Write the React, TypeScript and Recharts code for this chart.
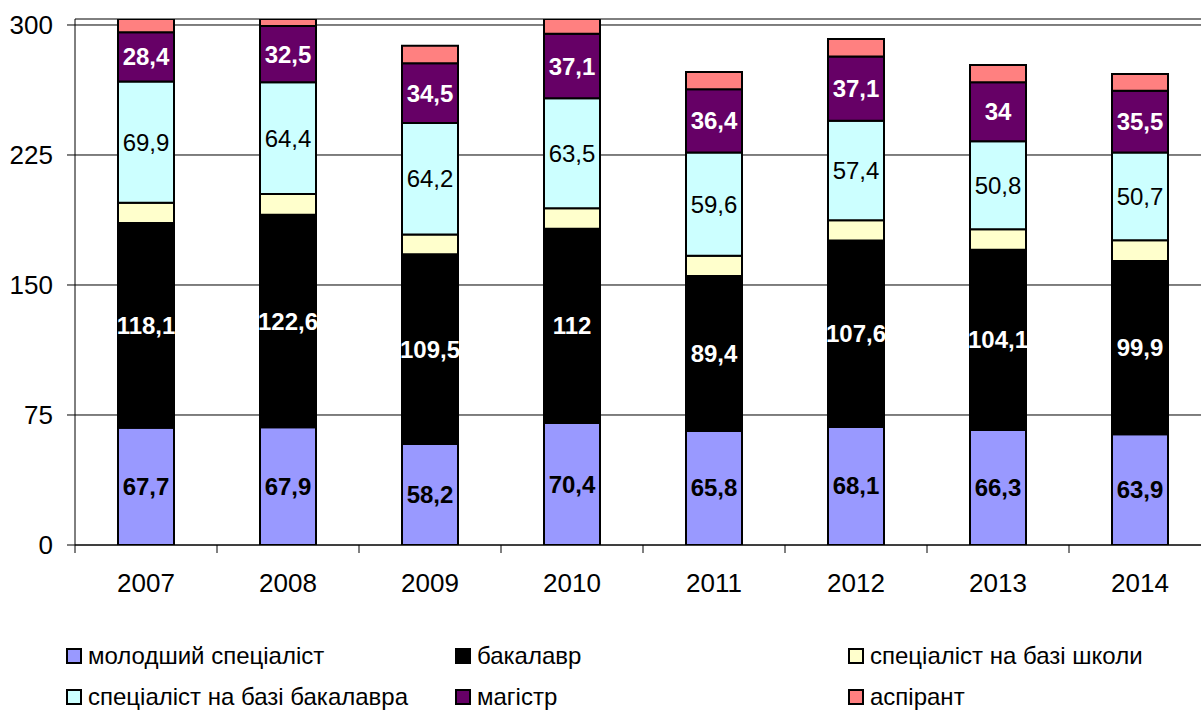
import React from 'react';
import { BarChart, Bar, XAxis, YAxis, CartesianGrid, LabelList, Legend } from 'recharts';

const years = ['2007', '2008', '2009', '2010', '2011', '2012', '2013', '2014'];
const molodshyi = [67.7, 67.9, 58.2, 70.4, 65.8, 68.1, 66.3, 63.9];
const bakalavr = [118.1, 122.6, 109.5, 112, 89.4, 107.6, 104.1, 99.9];
const specShkoly = [11.7, 12.0, 11.5, 11.9, 11.7, 11.6, 11.7, 12.0];
const specBakalavra = [69.9, 64.4, 64.2, 63.5, 59.6, 57.4, 50.8, 50.7];
const mahistr = [28.4, 32.5, 34.5, 37.1, 36.4, 37.1, 34, 35.5];
const aspirant = [9.5, 9.5, 10.1, 10.2, 10.0, 10.1, 10.0, 9.7];
const yTicks = [0, 75, 150, 225, 300];

const series = [
  { key: 'mol', name: 'молодший спеціаліст', color: '#9999FF' },
  { key: 'bak', name: 'бакалавр', color: '#000000' },
  { key: 'shk', name: 'спеціаліст на базі школи', color: '#FFFFCC' },
  { key: 'sb', name: 'спеціаліст на базі бакалавра', color: '#CCFFFF' },
  { key: 'mag', name: 'магістр', color: '#660066' },
  { key: 'asp', name: 'аспірант', color: '#FF8080' },
];

const data = years.map((y, i) => ({
  year: y,
  mol: molodshyi[i],
  bak: bakalavr[i],
  shk: specShkoly[i],
  sb: specBakalavra[i],
  mag: mahistr[i],
  asp: aspirant[i],
}));

const FONT = '"Liberation Sans", Arial, sans-serif';
const BAND = 142;

const fmt = (v: any) => String(v).replace('.', ',');

const XTick = (props: any) => {
  const { x, y, payload, index } = props;
  return (
    <g>
      <line x1={x - BAND / 2} x2={x - BAND / 2} y1={y} y2={y + 8} stroke="#000" strokeWidth={1} />
      {index === years.length - 1 && (
        <line x1={x + BAND / 2} x2={x + BAND / 2} y1={y} y2={y + 8} stroke="#000" strokeWidth={1} />
      )}
      <text x={x} y={y + 38} dy="0.35em" textAnchor="middle" fontSize={26} fill="#000" fontFamily={FONT}>
        {payload.value}
      </text>
    </g>
  );
};

// legend grid (page pixels)
const legendCols = [66, 455, 848];
const legendRows = [656, 697];

const LegendBox = () => (
  <div style={{ position: 'relative', width: 1201, height: 81, fontFamily: FONT }}>
    {series.map((s, i) => {
      const col = i % 3;
      const row = Math.floor(i / 3);
      return (
        <div
          key={s.key}
          style={{
            position: 'absolute',
            left: legendCols[col],
            top: legendRows[row] - 630 - 14,
            height: 28,
            display: 'flex',
            alignItems: 'center',
            whiteSpace: 'nowrap',
          }}
        >
          <span
            style={{
              display: 'inline-block',
              width: 12,
              height: 12,
              background: s.color,
              border: '2px solid #000',
              marginRight: 6,
            }}
          />
          <span style={{ fontSize: 24, color: '#000', lineHeight: '28px' }}>{s.name}</span>
        </div>
      );
    })}
  </div>
);

export default function App() {
  return (
    <div style={{ width: 1201, height: 711, overflow: 'hidden', position: 'relative', background: '#fff' }}>
      <style>{'body{margin:0}'}</style>
      <BarChart
        width={1230}
        height={711}
        data={data}
        margin={{ top: 19, right: 19, left: 0, bottom: 106 }}
        barSize={56}
      >
        <CartesianGrid vertical={false} stroke="#000" strokeWidth={1} />
        <XAxis
          dataKey="year"
          height={60}
          stroke="#000"
          tickLine={false}
          tickSize={0}
          tickMargin={0}
          tick={<XTick />}
          interval={0}
        />
        <YAxis
          width={75}
          domain={[0, 303.46]}
          ticks={yTicks}
          allowDataOverflow
          stroke="#000"
          tickSize={8}
          tickMargin={14}
          tick={{ fontSize: 26, fill: '#000', fontFamily: FONT }}
        />
        <Legend
          layout="horizontal"
          verticalAlign="middle"
          align="center"
          wrapperStyle={{ top: 630, left: 0, width: 1201, height: 81 }}
          content={() => <LegendBox />}
        />
        <Bar dataKey="mol" name="молодший спеціаліст" stackId="a" fill="#9999FF" stroke="#000" strokeWidth={2} isAnimationActive={false}>
          <LabelList dataKey="mol" position="center" formatter={fmt} fill="#000" fontSize={24} fontWeight="bold" fontFamily={FONT} />
        </Bar>
        <Bar dataKey="bak" name="бакалавр" stackId="a" fill="#000000" stroke="#000" strokeWidth={2} isAnimationActive={false}>
          <LabelList dataKey="bak" position="center" formatter={fmt} fill="#fff" fontSize={24} fontWeight="bold" fontFamily={FONT} />
        </Bar>
        <Bar dataKey="shk" name="спеціаліст на базі школи" stackId="a" fill="#FFFFCC" stroke="#000" strokeWidth={2} isAnimationActive={false} />
        <Bar dataKey="sb" name="спеціаліст на базі бакалавра" stackId="a" fill="#CCFFFF" stroke="#000" strokeWidth={2} isAnimationActive={false}>
          <LabelList dataKey="sb" position="center" formatter={fmt} fill="#000" fontSize={24} fontFamily={FONT} />
        </Bar>
        <Bar dataKey="mag" name="магістр" stackId="a" fill="#660066" stroke="#000" strokeWidth={2} isAnimationActive={false}>
          <LabelList dataKey="mag" position="center" formatter={fmt} fill="#fff" fontSize={24} fontWeight="bold" fontFamily={FONT} />
        </Bar>
        <Bar dataKey="asp" name="аспірант" stackId="a" fill="#FF8080" stroke="#000" strokeWidth={2} isAnimationActive={false} />
      </BarChart>
    </div>
  );
}
